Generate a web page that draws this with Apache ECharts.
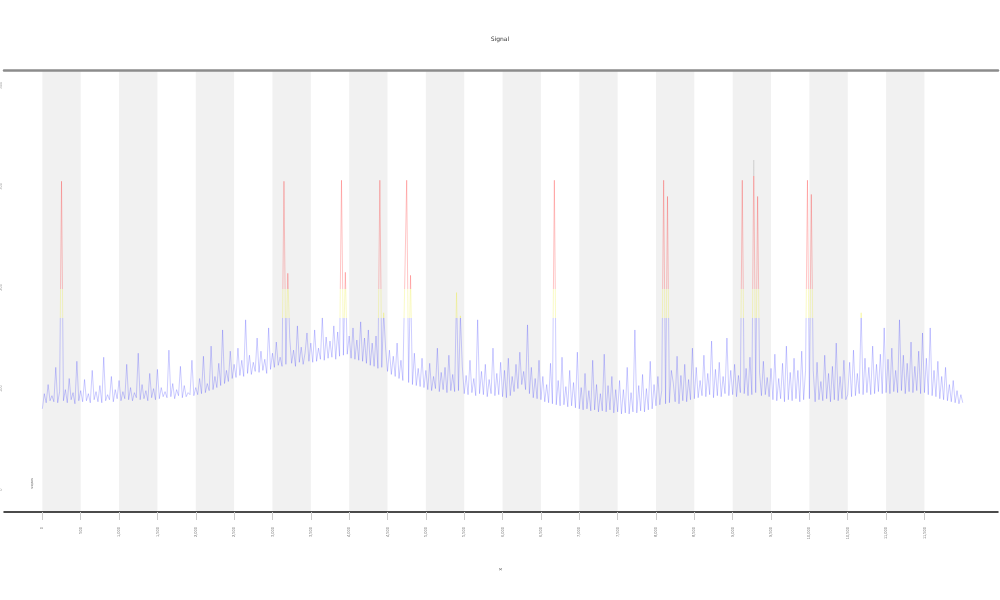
<!DOCTYPE html>
<html>
<head>
<meta charset="utf-8">
<script src="https://cdn.jsdelivr.net/npm/echarts@6/dist/echarts.min.js"></script>
<style>html,body{margin:0;padding:0;background:#fff}#chart{width:1000px;height:600px}</style>
</head>
<body>
<div id="chart"></div>
<script>
// Title / axis texts
const titleText = 'Signal';
const xAxisName = 'x';
const yAxisName = 'value (a.u.)';
const legendText = 'series';

// x tick values (sample position units) and step between samples
const xTicks = [0,500,1000,1500,2000,2500,3000,3500,4000,4500,5000,5500,6000,6500,7000,7500,8000,8500,9000,9500,10000,10500,11000,11500];
const sampleStep = 25;

// y tick values
const yTicks = [0,100,200,300,400];

// colour thresholds of the value
const thresholds = [170, 198, 310];

// signal values, one per sample
const values = [
  80, 95, 86, 104, 88, 93, 87, 121, 86, 97, 305, 88, 99, 86, 110, 89, 96, 85, 127, 88,
  98, 87, 109, 88, 95, 86, 118, 89, 97, 87, 103, 86, 131, 88, 94, 89, 112, 87, 99, 90,
  108, 88, 97, 90, 124, 89, 101, 88, 96, 91, 135, 89, 104, 90, 98, 88, 115, 91, 100, 89,
  119, 90, 101, 92, 97, 91, 138, 92, 105, 90, 99, 93, 122, 91, 103, 92, 96, 94, 128, 93,
  101, 94, 110, 95, 132, 96, 105, 98, 142, 99, 112, 101, 125, 103, 158, 105, 118, 107, 137, 110,
  124, 111, 140, 113, 128, 112, 168, 115, 133, 114, 126, 117, 150, 116, 137, 118, 129, 115, 160, 119,
  135, 121, 146, 123, 131, 122, 305, 124, 214, 150, 125, 138, 122, 162, 126, 141, 124, 135, 155, 127,
  145, 126, 158, 127, 140, 129, 170, 128, 151, 130, 147, 131, 162, 129, 156, 132, 306, 133, 215, 134,
  152, 130, 160, 129, 148, 128, 166, 127, 150, 125, 158, 123, 145, 122, 152, 120, 306, 121, 175, 140,
  117, 138, 114, 132, 112, 145, 110, 128, 108, 109, 306, 106, 212, 104, 135, 103, 120, 102, 130, 101,
  118, 99, 125, 98, 112, 100, 140, 97, 116, 99, 121, 96, 133, 98, 114, 97, 195, 98, 172, 122,
  95, 113, 94, 128, 96, 110, 93, 168, 95, 117, 94, 124, 92, 109, 95, 140, 93, 115, 94, 126,
  92, 118, 91, 130, 93, 112, 97, 124, 100, 136, 104, 117, 99, 163, 95, 121, 91, 110, 90, 128,
  89, 112, 87, 104, 86, 125, 85, 306, 84, 108, 83, 131, 84, 102, 82, 118, 83, 106, 81, 136,
  80, 101, 79, 115, 80, 98, 78, 128, 79, 104, 77, 95, 78, 134, 77, 103, 79, 112, 76, 99,
  77, 108, 75, 99, 76, 121, 75, 96, 77, 158, 76, 103, 78, 114, 77, 100, 79, 127, 80, 104,
  83, 112, 84, 98, 306, 85, 290, 86, 118, 106, 87, 132, 85, 113, 88, 124, 87, 109, 89, 140,
  90, 121, 91, 108, 93, 133, 92, 115, 94, 147, 91, 119, 93, 126, 92, 112, 95, 150, 93, 118,
  94, 124, 92, 113, 96, 306, 95, 120, 93, 131, 94, 326, 96, 290, 116, 93, 127, 94, 111, 92,
  120, 89, 134, 88, 110, 90, 125, 87, 142, 89, 116, 88, 130, 90, 118, 87, 137, 89, 118, 306,
  90, 292, 118, 87, 126, 89, 107, 88, 133, 90, 115, 87, 122, 89, 145, 88, 112, 90, 128, 89,
  94, 126, 92, 138, 93, 115, 95, 175, 94, 130, 96, 121, 94, 142, 95, 124, 97, 134, 95, 160,
  96, 129, 95, 140, 97, 118, 96, 168, 98, 133, 95, 125, 97, 146, 96, 122, 98, 137, 95, 155,
  96, 130, 94, 160, 93, 118, 92, 127, 90, 112, 89, 121, 88, 104, 87, 108, 86, 98, 85, 94, 86
];

const seriesData = values.map((v, i) => [i * sampleStep, v]);

const chart = echarts.init(document.getElementById('chart'), null, {renderer: 'canvas'});
chart.setOption({
  animation: false,
  backgroundColor: '#ffffff',
  title: {
    text: titleText, left: 'center', top: 31,
    textStyle: {fontSize: 6, fontWeight: 'normal', color: '#333', fontFamily: 'DejaVu Sans'}
  },
  grid: {left: 4, right: 2, top: 70, bottom: 88, containLabel: false, outerBoundsMode: 'none'},
  xAxis: [{
    type: 'value', min: -500, max: 12459, interval: 500,
    name: xAxisName, nameLocation: 'middle', nameGap: 56, nameRotate: 90,
    nameTextStyle: {fontSize: 5, color: '#555'},
    axisLine: {show: true, onZero: false, lineStyle: {color: '#111', width: 1.5}},
    axisTick: {show: true, length: 8, customValues: xTicks, lineStyle: {color: '#ccc', width: 1}},
    axisLabel: {show: true, customValues: xTicks, rotate: 90, margin: 15, fontSize: 4, color: '#777'},
    splitLine: {show: false},
    splitArea: {show: true, areaStyle: {color: ['#f1f1f1', 'rgba(255,255,255,0)']}}
  }, {
    type: 'value', position: 'top', min: -500, max: 12459,
    axisLine: {show: true, onZero: false, lineStyle: {color: '#8c8c8c', width: 2.5}},
    axisTick: {show: false}, axisLabel: {show: false}, splitLine: {show: false}
  }],
  yAxis: {
    type: 'value', min: -22, max: 415,
    name: yAxisName, nameLocation: 'middle', nameGap: 1, nameRotate: 90,
    nameTextStyle: {fontSize: 4, color: '#888'},
    axisLine: {show: false}, axisTick: {show: false},
    axisLabel: {show: true, customValues: yTicks, rotate: 90, margin: 1, fontSize: 4, color: '#999'},
    splitLine: {show: false}
  },
  visualMap: {
    type: 'piecewise', show: false, dimension: 1, seriesIndex: 0,
    pieces: [
      {lt: thresholds[0], color: '#1f1fff'},
      {gte: thresholds[0], lt: thresholds[1], color: '#e8e800'},
      {gte: thresholds[1], lte: thresholds[2], color: '#ff0000'}
    ],
    outOfRange: {color: '#9a9a9a'}
  },
  graphic: [{
    type: 'text', x: 34, y: 478, rotation: -Math.PI / 2,
    style: {text: legendText, fontSize: 4, fill: '#666'}
  }],
  series: [{
    type: 'line', xAxisIndex: 0, data: seriesData, showSymbol: false, sampling: null,
    lineStyle: {width: 0.7, opacity: 0.32},
    z: 3
  }]
});
</script>
</body>
</html>
